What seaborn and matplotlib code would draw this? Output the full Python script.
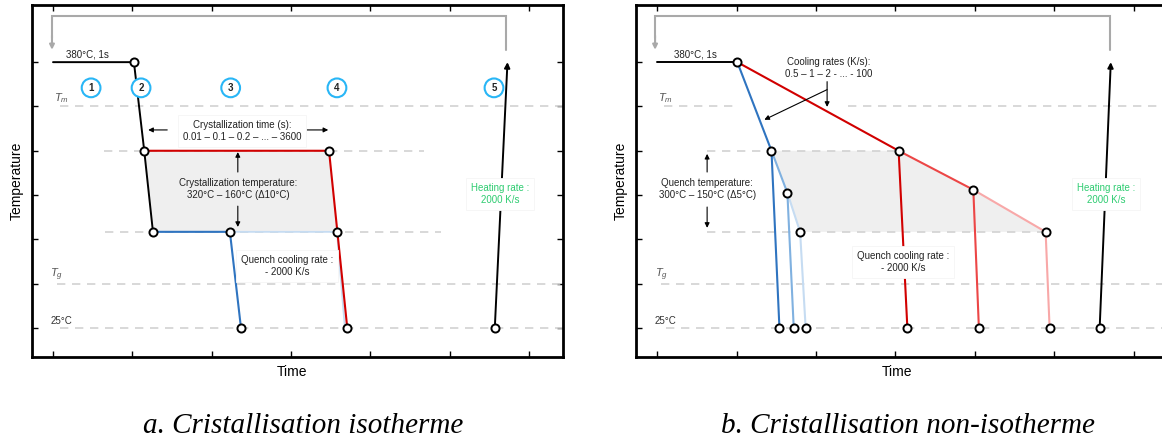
import matplotlib
matplotlib.use("Agg")
import matplotlib.pyplot as plt
import seaborn as sns
from matplotlib.patches import Polygon

sns.set_style("white")
plt.rcParams['font.family'] = ['Liberation Sans', 'DejaVu Sans']
plt.rcParams['text.color'] = 'black'
plt.rcParams['mathtext.fontset'] = 'custom'
plt.rcParams['mathtext.it'] = 'Liberation Sans:italic'
plt.rcParams['mathtext.rm'] = 'Liberation Sans'

# ---------------- data (schematic units: 1 tick = 1 unit) ----------------
# temperature levels
T_HOLD, T_MELT, T_HIGH, T_LOW, T_GLASS, T_ROOM = 6.0, 5.0, 4.0, 2.17, 1.0, 0.0

# panel a (isothermal)
a_black_x = [0.0, 1.02, 1.15, 1.26]
a_black_y = [6.0, 6.0, 4.0, 2.17]
a_red_x = [1.15, 3.48, 3.71]
a_red_y = [4.0, 4.0, 0.0]
a_blue_x = [1.26, 2.23, 2.37]
a_blue_y = [2.17, 2.17, 0.0]
a_ltblue_x = [2.23, 3.58, 3.68]
a_ltblue_y = [2.17, 2.17, 0.0]
a_fill_x = [1.15, 3.48, 3.58, 1.26]
a_fill_y = [4.0, 4.0, 2.17, 2.17]
a_pts_x = [1.02, 1.15, 1.26, 2.23, 2.37, 3.48, 3.58, 3.71, 5.57]
a_pts_y = [6.0, 4.0, 2.17, 2.17, 0.0, 4.0, 2.17, 0.0, 0.0]
a_heat_x = [5.57, 5.73]
a_heat_y = [0.0, 6.0]
a_steps = ['1', '2', '3', '4', '5']
a_steps_x = [0.48, 1.11, 2.24, 3.58, 5.56]

# panel b (non-isothermal)
b_black_x = [0.0, 1.01]
b_black_y = [6.0, 6.0]
b_red_path_x = [1.01, 3.04, 3.98, 4.89]
b_red_path_y = [6.0, 4.0, 3.12, 2.17]
b_red_drop_x = [(3.04, 3.15), (3.98, 4.05), (4.89, 4.94)]
b_red_drop_y = [(4.0, 0.0), (3.12, 0.0), (2.17, 0.0)]
b_blue_path_x = [1.01, 1.44, 1.64, 1.80]
b_blue_path_y = [6.0, 4.0, 3.05, 2.17]
b_blue_drop_x = [(1.44, 1.54), (1.64, 1.72), (1.80, 1.87)]
b_blue_drop_y = [(4.0, 0.0), (3.05, 0.0), (2.17, 0.0)]
b_fill_x = [1.44, 3.04, 3.98, 4.89, 1.80, 1.64]
b_fill_y = [4.0, 4.0, 3.12, 2.17, 2.17, 3.05]
b_pts_x = [1.01, 1.44, 1.64, 1.80, 1.54, 1.72, 1.87, 3.04, 3.98, 4.89, 3.15, 4.05, 4.94, 5.57]
b_pts_y = [6.0, 4.0, 3.05, 2.17, 0.0, 0.0, 0.0, 4.0, 3.12, 2.17, 0.0, 0.0, 0.0, 0.0]
b_heat_x = [5.57, 5.71]
b_heat_y = [0.0, 6.0]

ticks = [0, 1, 2, 3, 4, 5, 6]

# ---------------- styles ----------------
RED = ['#d10000', '#ec4646', '#f8a8a8']
BLUE = ['#2f74c0', '#80b1e0', '#c6dcf2']
GREEN = '#2ecc71'
CYAN = '#29b6f6'
DASH = '#d2d2d2'
FILL = '#efefef'

W, H = 1162, 438
fig = plt.figure(figsize=(W / 100, H / 100), dpi=100)
axA = fig.add_axes([32 / W, (H - 357) / H, 531 / W, 352 / H])
axB = fig.add_axes([636 / W, (H - 357) / H, 532 / W, 352 / H])

XL = (-0.265, 6.43)
YL = (-0.655, 7.29)


def setup(ax):
    ax.set_xlim(*XL)
    ax.set_ylim(*YL)
    ax.set_xticks(ticks)
    ax.set_yticks(ticks)
    ax.set_xticklabels([])
    ax.set_yticklabels([])
    ax.tick_params(direction='in', length=4, width=1, top=True, right=True,
                   bottom=True, left=True, color='black')
    for s in ax.spines.values():
        s.set_linewidth(2.0)
        s.set_color('black')
        s.set_visible(True)
    ax.set_xlabel('')
    ax.set_ylabel('')
    ax.text(-0.028, 0.5, 'Temperature', transform=ax.transAxes, rotation=90,
            ha='center', va='center', fontsize=10, color='black')
    ax.text(0.49, -0.043, 'Time', transform=ax.transAxes, ha='center',
            va='center', fontsize=10, color='black')


def dashed(ax, y, x0, x1):
    ax.plot([x0, x1], [y, y], color=DASH, lw=1.2, ls=(0, (5, 4)), zorder=1.5)


def seg(ax, xs, ys, color, lw=1.4, z=2):
    sns.lineplot(x=xs, y=ys, sort=False, estimator=None, color=color, lw=lw,
                 ax=ax, zorder=z)


def pts(ax, xs, ys):
    sns.scatterplot(x=xs, y=ys, s=34, facecolor='white', edgecolor='black',
                    linewidth=1.4, ax=ax, zorder=6)


def arrow(ax, xy, xytext, color='black', lw=0.8, ms=7):
    ax.annotate('', xy=xy, xytext=xytext,
                arrowprops=dict(arrowstyle='-|>', color=color, lw=lw,
                                mutation_scale=ms, shrinkA=0, shrinkB=0),
                zorder=5)


def boxtext(ax, x, y, s, color='#222222', fs=7):
    ax.text(x, y, s, ha='center', va='center', fontsize=fs, color=color,
            linespacing=1.25, zorder=7,
            bbox=dict(boxstyle='square,pad=0.5', fc='white', ec='#f5f5f5', lw=0.6))


def return_loop(ax, xr, xl):
    ax.plot([xr, xr, xl, xl], [6.28, 7.04, 7.04, 6.55], color='#a9a9a9', lw=1.5,
            zorder=2, solid_joinstyle='miter')
    arrow(ax, (xl, 6.28), (xl, 6.6), color='#a9a9a9', lw=1.5, ms=7)


def levels_text(ax):
    ax.text(0.11, 5.19, '$T_m$', ha='center', va='center', fontsize=8, color='#555555')
    ax.text(0.05, 1.2, '$T_g$', ha='center', va='center', fontsize=8, color='#555555')
    ax.text(0.11, 0.16, '25°C', ha='center', va='center', fontsize=7, color='#333333')


# ---------------- panel a ----------------
setup(axA)
axA.add_patch(Polygon(list(zip(a_fill_x, a_fill_y)), closed=True, fc=FILL, ec='none', zorder=1))
dashed(axA, T_MELT, 0.09, 6.6)
dashed(axA, T_HIGH, 0.64, 4.68)
dashed(axA, T_LOW, 0.66, 4.89)
dashed(axA, T_GLASS, 0.05, 6.6)
dashed(axA, T_ROOM, 0.09, 6.6)
seg(axA, a_ltblue_x, a_ltblue_y, BLUE[2], lw=1.3, z=2)
seg(axA, a_black_x, a_black_y, 'black', lw=1.4, z=3)
seg(axA, a_red_x, a_red_y, RED[0], lw=1.5, z=3)
seg(axA, a_blue_x, a_blue_y, BLUE[0], lw=1.5, z=3)
arrow(axA, (a_heat_x[1], a_heat_y[1]), (a_heat_x[0], a_heat_y[0]), lw=1.4, ms=8)
return_loop(axA, 5.71, -0.013)
pts(axA, a_pts_x, a_pts_y)
for lab, x in zip(a_steps, a_steps_x):
    axA.text(x, 5.42, lab, ha='center', va='center', fontsize=7, fontweight='bold',
             color='#222222', zorder=7,
             bbox=dict(boxstyle='circle,pad=0.45', fc='white', ec=CYAN, lw=1.5))
levels_text(axA)
axA.text(0.43, 6.17, '380°C, 1s', ha='center', va='center', fontsize=7, color='#222222')
boxtext(axA, 2.38, 4.45, 'Crystallization time (s):\n0.01 – 0.1 – 0.2 – ... – 3600')
arrow(axA, (1.20, 4.47), (1.44, 4.47))
arrow(axA, (3.47, 4.47), (3.20, 4.47))
axA.text(2.33, 3.14, 'Crystallization temperature:\n320°C – 160°C (Δ10°C)', ha='center',
         va='center', fontsize=7, color='#222222', linespacing=1.25, zorder=7)
arrow(axA, (2.33, 3.97), (2.33, 3.52))
arrow(axA, (2.33, 2.28), (2.33, 2.75))
boxtext(axA, 2.95, 1.40, 'Quench cooling rate :\n- 2000 K/s')
boxtext(axA, 5.64, 3.02, 'Heating rate :\n2000 K/s', color=GREEN)

# ---------------- panel b ----------------
setup(axB)
axB.add_patch(Polygon(list(zip(b_fill_x, b_fill_y)), closed=True, fc=FILL, ec='none', zorder=1))
dashed(axB, T_MELT, 0.09, 1.0)
dashed(axB, T_MELT, 2.40, 6.6)
dashed(axB, T_HIGH, 0.63, 3.04)
dashed(axB, T_LOW, 0.63, 4.89)
dashed(axB, T_GLASS, 0.05, 6.6)
dashed(axB, T_ROOM, 0.11, 6.6)
seg(axB, b_black_x, b_black_y, 'black', lw=1.4, z=3)
for i in range(3):
    seg(axB, b_red_path_x[i:i + 2], b_red_path_y[i:i + 2], RED[i], lw=1.5, z=3 - i * 0.1)
    seg(axB, list(b_red_drop_x[i]), list(b_red_drop_y[i]), RED[i], lw=1.5, z=3 - i * 0.1)
    seg(axB, b_blue_path_x[i:i + 2], b_blue_path_y[i:i + 2], BLUE[i], lw=1.5, z=3 - i * 0.1)
    seg(axB, list(b_blue_drop_x[i]), list(b_blue_drop_y[i]), BLUE[i], lw=1.5, z=3 - i * 0.1)
arrow(axB, (b_heat_x[1], b_heat_y[1]), (b_heat_x[0], b_heat_y[0]), lw=1.4, ms=8)
return_loop(axB, 5.70, -0.025)
pts(axB, b_pts_x, b_pts_y)
levels_text(axB)
axB.text(0.48, 6.17, '380°C, 1s', ha='center', va='center', fontsize=7, color='#222222')
axB.text(2.16, 5.87, 'Cooling rates (K/s):\n0.5 – 1 – 2 - ... - 100', ha='center',
         va='center', fontsize=7, color='#222222', linespacing=1.25, zorder=7)
arrow(axB, (2.14, 4.99), (2.14, 5.56))
arrow(axB, (1.35, 4.70), (2.14, 5.38))
axB.text(0.63, 3.14, 'Quench temperature:\n300°C – 150°C (Δ5°C)', ha='center',
         va='center', fontsize=7, color='#222222', linespacing=1.25, zorder=7)
arrow(axB, (0.63, 3.93), (0.63, 3.52))
arrow(axB, (0.63, 2.26), (0.63, 2.73))
boxtext(axB, 3.10, 1.49, 'Quench cooling rate :\n- 2000 K/s')
boxtext(axB, 5.65, 3.02, 'Heating rate :\n2000 K/s', color=GREEN)

# ---------------- captions ----------------
fig.text(303 / W, 1 - 433 / H, 'a. Cristallisation isotherme', ha='center', va='baseline',
         fontsize=21, family='Liberation Serif', style='italic', color='black')
fig.text(908 / W, 1 - 433 / H, 'b. Cristallisation non-isotherme', ha='center', va='baseline',
         fontsize=21, family='Liberation Serif', style='italic', color='black')

fig.savefig('out.png', dpi=100)
